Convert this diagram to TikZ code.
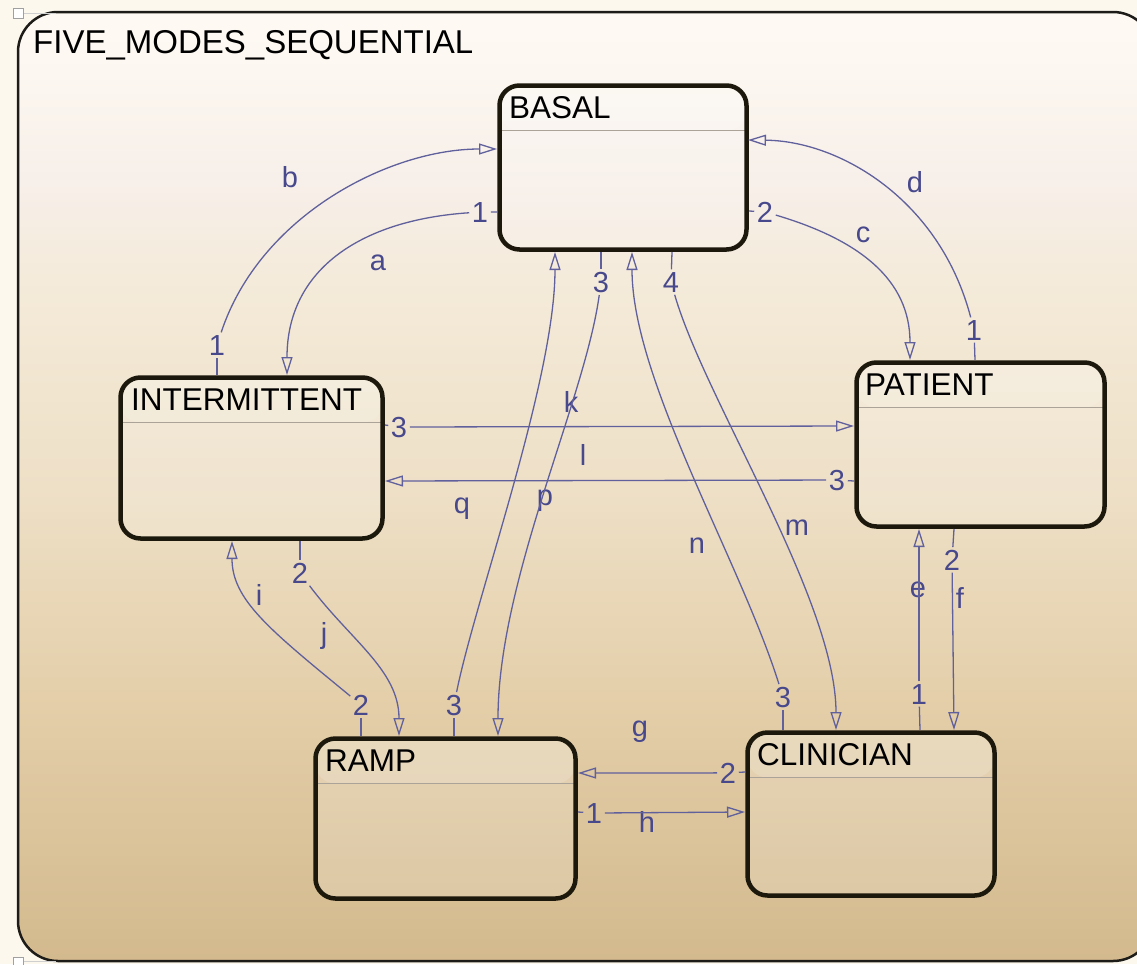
\documentclass[tikz,border=0pt]{standalone}
\usepackage{fontspec}
\setmainfont{Liberation Sans}
\usetikzlibrary{arrows.meta}

\definecolor{pagebg}{RGB}{253,248,238}
\definecolor{bgtop}{RGB}{254,250,243}
\definecolor{bgpink}{RGB}{247,239,233}
\definecolor{bgup}{RGB}{244,234,216}
\definecolor{bgmid}{RGB}{238,224,199}
\definecolor{bglow}{RGB}{228,207,170}
\definecolor{bgbot}{RGB}{211,185,141}
\definecolor{chartline}{RGB}{30,28,24}
\definecolor{stroke}{RGB}{28,24,12}
\definecolor{trans}{RGB}{96,96,156}
\definecolor{labc}{RGB}{72,72,140}
\definecolor{sepc}{RGB}{172,163,152}
\definecolor{handlec}{RGB}{160,160,160}

% chart background: bottom (0bp) to top (100bp), path fitted to 25bp..75bp
\pgfdeclareverticalshading{chartbg}{100bp}{%
  color(0bp)=(bgbot); color(25bp)=(bgbot); color(39bp)=(bglow);
  color(50bp)=(bgmid); color(60bp)=(bgup); color(66bp)=(bgpink);
  color(74bp)=(bgtop); color(100bp)=(bgtop)}

\begin{document}
\begin{tikzpicture}[x=1pt,y=-1pt,
  >={Triangle[open,length=18pt,width=11pt]},
  stateb/.style={draw=stroke, line width=4.5pt, rounded corners=20pt,
    fill=white, fill opacity=0.16, inner sep=0pt, outer sep=0pt,
    path picture={
      \fill[white, fill opacity=0.14]
        (path picture bounding box.north west) rectangle
        ([yshift=-45pt]path picture bounding box.north east);
      \draw[sepc, line width=1.2pt, draw opacity=1]
        ([yshift=-45pt]path picture bounding box.north west) --
        ([yshift=-45pt]path picture bounding box.north east);
    }},
  tr/.style={draw=trans, line width=1.3pt},
  lab/.style={text=labc, font=\fontsize{29}{30}\selectfont, inner sep=2.5pt, anchor=base},
  ttl/.style={font=\fontsize{31.5}{36}\selectfont, text=black, inner sep=0pt, anchor=base west},
  handle/.style={draw=handlec, line width=0.8pt, fill=white},
  guide/.style={draw=handlec!50, line width=0.6pt},
]
\useasboundingbox (0,0) rectangle (1137,964);
\clip (0,0) rectangle (1137,964);
\fill[pagebg] (0,0) rectangle (1137,964);

% chart frame
\shadedraw[shading=chartbg, draw=chartline, line width=2.5pt, rounded corners=40pt]
  (18,12) rectangle (1153,961);
\node[font=\fontsize{33}{40}\selectfont, inner sep=0pt, anchor=base west] (chart) at (33,53) {FIVE\_MODES\_SEQUENTIAL};

% selection handles
\draw[guide] (23,13) -- (56,13);
\draw[guide] (23,961) -- (56,961);
\draw[handle] (13,8) rectangle (23,18);
\draw[handle] (13,957) rectangle (23,967);

% states
\node[stateb, minimum width=247pt, minimum height=164pt] (basal) at (623,167.5) {};
\node[stateb, minimum width=262pt, minimum height=161pt] (inter) at (251.5,458) {};
\node[stateb, minimum width=248pt, minimum height=164pt] (patient) at (980.5,444.5) {};
\node[stateb, minimum width=260pt, minimum height=160pt] (ramp) at (445.5,818.5) {};
\node[stateb, minimum width=247pt, minimum height=163pt] (clin) at (871,814) {};

\node[ttl] (basalT) at (509,118) {BASAL};
\node[ttl] (interT) at (131,410) {INTERMITTENT};
\node[ttl] (patientT) at (865,395) {PATIENT};
\node[ttl] (rampT) at (325,771) {RAMP};
\node[ttl] (clinT) at (757,765) {CLINICIAN};

% ports on the state borders
\coordinate (pBw1) at (497,212);
\coordinate (pBw2) at (497,149);
\coordinate (pBe1) at (749,211);
\coordinate (pBe2) at (748,140);
\coordinate (pBs1) at (555,252);
\coordinate (pBs2) at (601,252);
\coordinate (pBs3) at (632,252);
\coordinate (pBs4) at (672,252);
\coordinate (pIn1) at (217,375);
\coordinate (pIn2) at (287,375);
\coordinate (pIe1) at (385,425);
\coordinate (pIe2) at (385,481);
\coordinate (pIs1) at (232,541);
\coordinate (pIs2) at (300,541);
\coordinate (pPn1) at (910,360);
\coordinate (pPn2) at (975,360);
\coordinate (pPw1) at (854,426);
\coordinate (pPw2) at (854,481);
\coordinate (pPs1) at (919,529);
\coordinate (pPs2) at (954,529);
\coordinate (pRn1) at (361,736);
\coordinate (pRn2) at (399,736);
\coordinate (pRn3) at (454,736);
\coordinate (pRn4) at (498,736);
\coordinate (pRe1) at (578,773);
\coordinate (pRe2) at (578,812);
\coordinate (pCn1) at (783,730);
\coordinate (pCn2) at (836,730);
\coordinate (pCn3) at (920,730);
\coordinate (pCn4) at (954,730);
\coordinate (pCw1) at (745,772);
\coordinate (pCw2) at (745,812);

% execution-order numbers
\node[lab] (nA) at (480,222) {1};
\node[lab] (nB) at (217,355) {1};
\node[lab] (nC) at (765,222) {2};
\node[lab] (nD) at (974,340) {1};
\node[lab] (nBs3) at (601,292) {3};
\node[lab] (nBs4) at (671,292) {4};
\node[lab] (nI3) at (399,437) {3};
\node[lab] (nP3) at (837,490) {3};
\node[lab] (nP2) at (952,570) {2};
\node[lab] (nI2) at (300,583) {2};
\node[lab] (nR2) at (361,715) {2};
\node[lab] (nR3) at (454,715) {3};
\node[lab] (nC3) at (783,707) {3};
\node[lab] (nC1) at (919,704) {1};
\node[lab] (nC2) at (728,783) {2};
\node[lab] (nR1) at (594,823) {1};

% transition names
\node[lab] (ta) at (378,270) {a};
\node[lab] (tb) at (290,187) {b};
\node[lab] (tc) at (863,242) {c};
\node[lab] (td) at (915,192) {d};
\node[lab] (te) at (918,597) {e};
\node[lab] (tf) at (960,608) {f};
\node[lab] (tg) at (640,736) {g};
\node[lab] (th) at (647,832) {h};
\node[lab] (ti) at (259,605) {i};
\node[lab] (tj) at (324,643) {j};
\node[lab] (tk) at (571,412) {k};
\node[lab] (tl) at (583,465) {l};
\node[lab] (tm) at (797,535) {m};
\node[lab] (tn) at (697,553) {n};
\node[lab] (tp) at (545,505) {p};
\node[lab] (tq) at (462,513) {q};

% stubs from source states to their order numbers
\draw[tr] (pBw1) -- (nA);
\draw[tr] (pIn1) -- (nB);
\draw[tr] (pBe1) -- (nC);
\draw[tr] (pPn2) -- (nD);
\draw[tr] (pBs2) -- (nBs3);
\draw[tr] (pBs4) -- (nBs4);
\draw[tr] (pIe1) -- (nI3);
\draw[tr] (pPw2) -- (nP3);
\draw[tr] (pPs2) -- (nP2);
\draw[tr] (pIs2) -- (nI2);
\draw[tr] (pRn1) -- (nR2);
\draw[tr] (pRn3) -- (nR3);
\draw[tr] (pCn1) -- (nC3);
\draw[tr] (pCn3) -- (nC1);
\draw[tr] (pCw1) -- (nC2);
\draw[tr] (pRe2) -- (nR1);

% transitions
\draw[tr,->] (nA) .. controls (360,220) and (287,270) .. (pIn2);            % a
\draw[tr,->] (nB) .. controls (260,215) and (390,149) .. (pBw2);            % b
\draw[tr,->] (nC) .. controls (860,240) and (910,280) .. (pPn1);            % c
\draw[tr,->] (nD) .. controls (940,200) and (840,141) .. (pBe2);            % d
\draw[tr,->] (nC1) -- (pPs1);                                               % e
\draw[tr,->] (nP2) -- (pCn4);                                               % f
\draw[tr,->] (nC2) -- (pRe1);                                               % g
\draw[tr,->] (nR1) -- (pCw2);                                               % h
\draw[tr,->] (nR2) .. controls (270,630) and (232,600) .. (pIs1);           % i
\draw[tr,->] (nI2) .. controls (350,640) and (399,670) .. (pRn2);           % j
\draw[tr,->] (nI3) -- (pPw1);                                               % k
\draw[tr,->] (nP3) -- (pIe2);                                               % l
\draw[tr,->] (nBs4) .. controls (705,400) and (836,600) .. (pCn2);          % m
\draw[tr,->] (nC3) .. controls (740,560) and (632,380) .. (pBs3);           % n
\draw[tr,->] (nBs3) .. controls (585,400) and (498,580) .. (pRn4);          % p
\draw[tr,->] (nR3) .. controls (475,600) and (555,380) .. (pBs1);           % q
\end{tikzpicture}
\end{document}
